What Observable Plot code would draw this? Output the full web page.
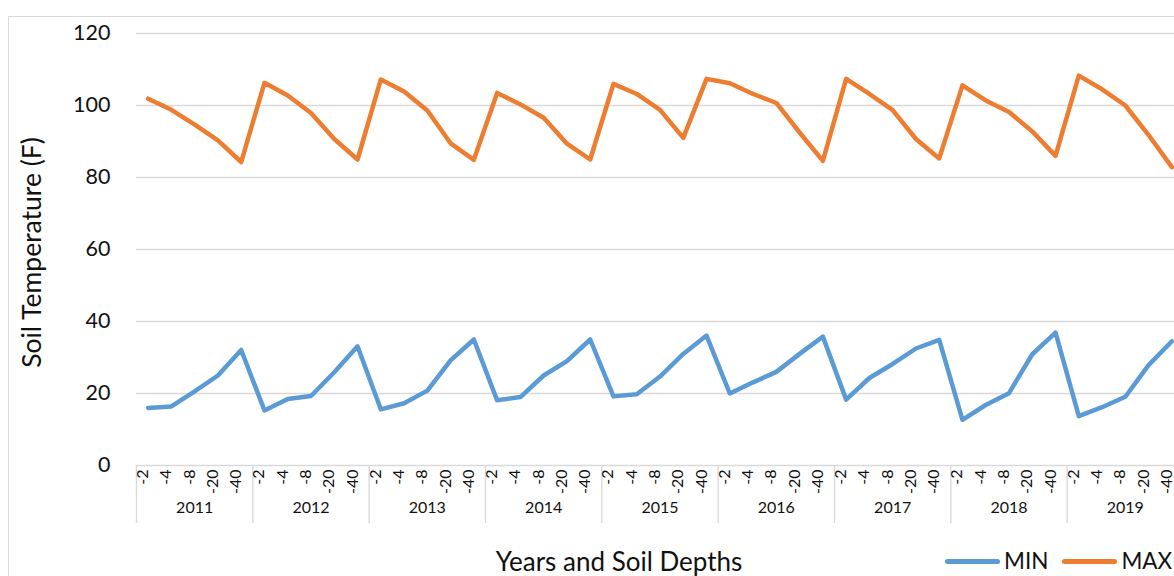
<!DOCTYPE html>
<html>
<head>
<meta charset="utf-8">
<script src="https://cdn.jsdelivr.net/npm/d3@7"></script>
<script src="https://cdn.jsdelivr.net/npm/@observablehq/plot@0.6"></script>
<style>
  html, body { margin: 0; padding: 0; background: #fff; overflow: hidden; }
  #page { position: relative; width: 1174px; height: 576px; overflow: hidden; font-family: Lato, "Open Sans", sans-serif; color: #111; }
  #frame { position: absolute; left: 8px; top: 16px; width: 1400px; height: 700px; border: 1.5px solid #d9d9d9; box-sizing: border-box; }
  #chart { position: absolute; left: 0; top: 0; width: 1200px; height: 540px; }
  #chart svg { max-width: none !important; }
  #xtitle { position: absolute; left: 419px; top: 547px; width: 400px; text-align: center; font-size: 26px; line-height: 28px; white-space: nowrap; }
  #legend { position: absolute; left: 945px; top: 548px; display: flex; align-items: center; font-size: 22.5px; line-height: 26px; white-space: nowrap; }
  .sw { display: inline-block; width: 55px; height: 5px; border-radius: 3px; margin-right: 4px; }
  .item { display: flex; align-items: center; margin-right: 14px; }
</style>
</head>
<body>
<div id="page">
  <div id="frame"></div>
  <div id="chart"></div>
  <div id="xtitle">Years and Soil Depths</div>
  <div id="legend">
    <span class="item"><span class="sw" style="background:#5b9bd5"></span>MIN</span>
    <span class="item"><span class="sw" style="background:#ed7d31"></span>MAX</span>
  </div>
</div>
<script>
// Sampling years and the soil depths (inches) measured each year
const years = ["2011", "2012", "2013", "2014", "2015", "2016", "2017", "2018", "2019"];
const depths = ["-2", "-4", "-8", "-20", "-40"];

// Minimum soil temperature (F), year by year, depth by depth
const minTemps = [
  16.0, 16.4, 20.6, 25.0, 32.1,
  15.3, 18.5, 19.3, 25.9, 33.1,
  15.6, 17.3, 20.8, 29.2, 35.0,
  18.1, 19.0, 25.0, 29.0, 35.0,
  19.2, 19.8, 24.7, 31.0, 36.1,
  20.0, 23.1, 26.0, 31.0, 35.8,
  18.3, 24.3, 28.2, 32.5, 34.9,
  12.7, 16.8, 20.1, 30.9, 36.9,
  13.7, 16.2, 19.1, 27.9, 34.5
];

// Maximum soil temperature (F), year by year, depth by depth
const maxTemps = [
  101.9, 98.8, 94.7, 90.3, 84.3,
  106.3, 102.8, 97.9, 90.7, 85.0,
  107.2, 103.9, 98.6, 89.5, 84.9,
  103.5, 100.3, 96.6, 89.4, 85.0,
  106.0, 103.2, 98.8, 91.0, 107.4,
  106.2, 103.2, 100.7, 92.5, 84.6,
  107.4, 103.2, 98.7, 90.7, 85.3,
  105.6, 101.4, 98.2, 92.8, 86.0,
  108.3, 104.5, 100.0, 91.8, 82.9
];

const yTicks = [0, 20, 40, 60, 80, 100, 120];

// One row per (year, depth) category, in axis order
const rows = [];
years.forEach((year, yi) => depths.forEach((depth, di) => {
  const i = yi * depths.length + di;
  rows.push({i, year, depth, min: minTemps[i], max: maxTemps[i]});
}));

// Year groups: label under the middle depth, separators between groups
const groups = years.map((year, yi) => ({year, mid: yi * depths.length + (depths.length - 1) / 2}));
const separators = d3.range(years.length + 1).map(k => k * depths.length - 0.5);

const grey = "#d9d9d9";

const chart = Plot.plot({
  width: 1200,
  height: 540,
  marginLeft: 136,
  marginRight: 17,
  marginTop: 33,
  marginBottom: 75,
  style: {fontFamily: "Lato, 'Open Sans', sans-serif", color: "#111", background: "transparent", maxWidth: "none"},
  x: {type: "linear", domain: [-0.5, rows.length - 0.5], axis: null},
  y: {domain: [0, 120], axis: null},
  marks: [
    Plot.gridY(yTicks.filter(t => t > 0), {stroke: grey, strokeOpacity: 1, strokeWidth: 1.4}),
    Plot.ruleY([0], {stroke: grey, strokeWidth: 1.4}),
    Plot.axisY(yTicks, {tickSize: 0, tickPadding: 26, fontSize: 21.5, label: null}),
    Plot.axisX(separators, {tickSize: 58, tickFormat: () => "", stroke: grey, strokeWidth: 1.4, label: null}),
    Plot.text(rows, {x: "i", text: "depth", frameAnchor: "bottom", rotate: -90, textAnchor: "end", dy: 4, fontSize: 16}),
    Plot.text(groups, {x: "mid", text: "year", frameAnchor: "bottom", dy: 47, fontSize: 16}),
    Plot.text(["Soil Temperature (F)"], {frameAnchor: "left", textAnchor: "middle", rotate: -90, dx: -104, dy: 3, fontSize: 26.5}),
    Plot.lineY(rows, {x: "i", y: "min", stroke: "#5b9bd5", strokeWidth: 4.5, strokeLinejoin: "round", strokeLinecap: "round"}),
    Plot.lineY(rows, {x: "i", y: "max", stroke: "#ed7d31", strokeWidth: 4.5, strokeLinejoin: "round", strokeLinecap: "round"})
  ]
});

document.getElementById("chart").append(chart);
</script>
</body>
</html>
